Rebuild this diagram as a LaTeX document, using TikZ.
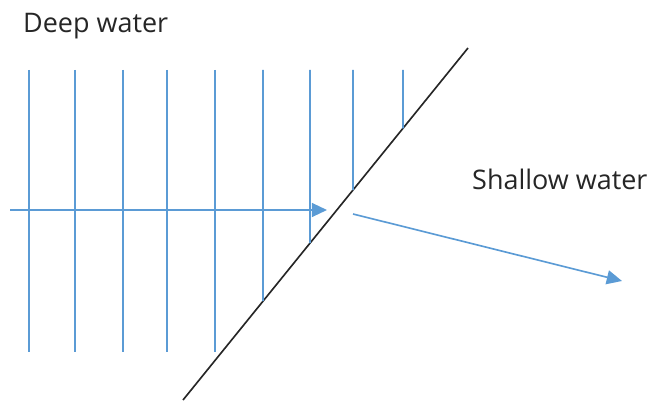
\documentclass[tikz,border=0pt]{standalone}
\usepackage{fontspec}
\setmainfont{Open Sans}
\usetikzlibrary{arrows.meta}
\definecolor{waveblue}{HTML}{5B9BD5}
\tikzset{
  front/.style={draw=waveblue, line width=1.4pt},
  ray/.style={draw=waveblue, line width=1.4pt, -{Triangle[length=13pt, width=12pt]}},
  shore/.style={draw=black!85, line width=1.4pt},
  wlabel/.style={anchor=west, inner sep=0pt, font=\fontsize{23}{27}\selectfont, text=black!85}
}
\begin{document}
\begin{tikzpicture}[x=0.03cm, y=-0.03cm]
  \useasboundingbox (0,0) rectangle (655,401);

  % Shore line
  \coordinate (shoreA) at (183,400);
  \coordinate (shoreB) at (468,48);
  \draw[shore] (shoreA) -- (shoreB);

  % Wave fronts, full length
  \foreach \x/\n in {29/1,75/2,123/3,167/4,215/5} {
    \coordinate (top\n) at (\x,70);
    \coordinate (bot\n) at (\x,352);
    \draw[front] (top\n) -- (bot\n);
  }

  % Wave fronts, cut by the shore
  \foreach \x/\n in {263/6,310/7,353/8,403/9} {
    \coordinate (top\n) at (\x,70);
    \coordinate (bot\n) at (\x,352);
    \coordinate (cut\n) at (intersection cs: first line={(top\n)--(bot\n)}, second line={(shoreA)--(shoreB)});
    \draw[front] (top\n) -- (cut\n);
  }

  % Rays
  \coordinate (rayStart) at (10,210);
  \coordinate (rayEnd) at (327,210);
  \draw[ray] (rayStart) -- (rayEnd);
  \coordinate (refrStart) at (353,214);
  \coordinate (refrEnd) at (622,281);
  \draw[ray] (refrStart) -- (refrEnd);

  % Labels
  \node[wlabel] (deep) at (23,26) {Deep water};
  \node[wlabel] (shallow) at (472,179) {Shallow water};
\end{tikzpicture}
\end{document}
